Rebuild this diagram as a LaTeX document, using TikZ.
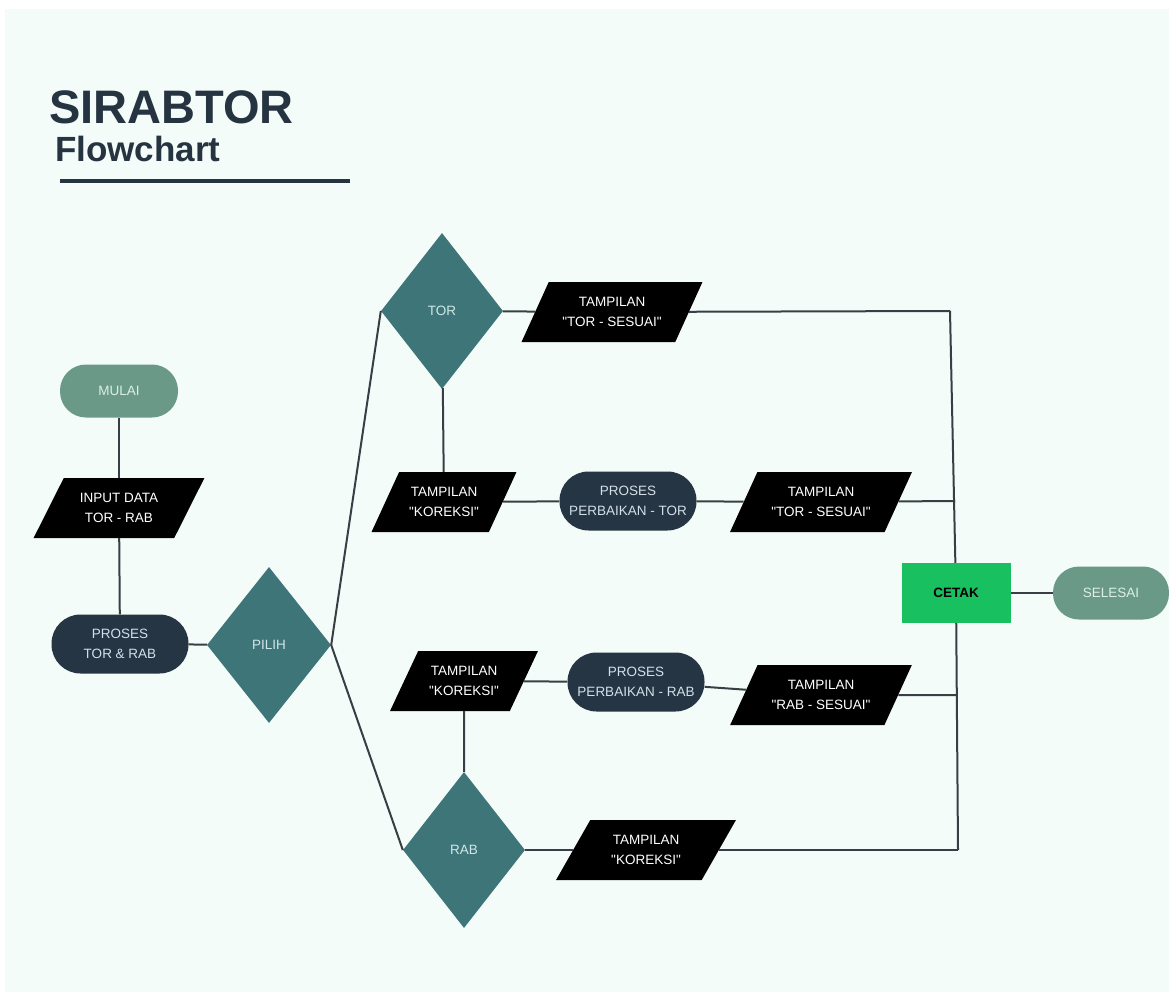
\documentclass[tikz,border=0pt]{standalone}
\usepackage{fontspec}
\setmainfont{Liberation Sans}
\usetikzlibrary{shapes.geometric}

\definecolor{bgmint}{HTML}{F3FCF8}
\definecolor{ink}{HTML}{263340}
\definecolor{sage}{HTML}{6A9A87}
\definecolor{sagetext}{HTML}{DCEFE6}
\definecolor{navy}{HTML}{263544}
\definecolor{navytext}{HTML}{D3E0E8}
\definecolor{tealdk}{HTML}{3E7578}
\definecolor{tealtext}{HTML}{D2E8E8}
\definecolor{printgreen}{HTML}{19C060}
\definecolor{wire}{HTML}{383E43}

\newcommand{\qt}[1]{\textquotedbl#1\textquotedbl}

\begin{document}
\begin{tikzpicture}
  [x=1pt,y=-1pt,every node/.style={align=center,inner sep=0pt,font=\fontsize{13.5}{20}\selectfont}]
  \tikzstyle{terminal} = [rectangle,rounded corners=26pt,fill=sage,text=sagetext,minimum width=118pt,minimum height=53pt]
  \tikzstyle{process} = [rectangle,rounded corners=29pt,fill=navy,text=navytext,minimum width=137pt,minimum height=59pt]
  \tikzstyle{io} = [trapezium,trapezium left angle=54,trapezium right angle=126,trapezium stretches=true,fill=black,text=white,minimum height=60pt]
  \tikzstyle{decision} = [diamond,fill=tealdk,text=tealtext,minimum width=122pt,minimum height=156pt]
  \tikzstyle{printbox} = [rectangle,fill=printgreen,text=black,font=\fontsize{13.5}{20}\selectfont\bfseries,minimum width=109pt,minimum height=60pt]
  \tikzstyle{wire} = [draw=wire,line width=2pt]

  \useasboundingbox (0,0) rectangle (1169,992);
  \fill[bgmint] (5,9) rectangle (1169,992);

  \node[anchor=base west,text=ink,font=\fontsize{47}{47}\selectfont\bfseries] (title) at (49,124) {SIRABTOR};
  \node[anchor=base west,text=ink,font=\fontsize{35}{35}\selectfont\bfseries] (subtitle) at (55,162) {Flowchart};
  \draw[ink,line width=4pt] (60,181) -- (350,181);

  \node[terminal] (mulai) at (119,391) {MULAI};
  \node[io,minimum width=171pt] (input) at (119,508) {INPUT DATA\\TOR - RAB};
  \node[process] (proses) at (120,644) {PROSES\\TOR \& RAB};
  \node[decision,minimum width=124pt] (pilih) at (269,645) {PILIH};

  \node[decision] (tor) at (442,311) {TOR};
  \node[io,minimum width=181pt] (torOk) at (612,312) {TAMPILAN\\\qt{TOR - SESUAI}};
  \node[io,minimum width=145pt] (torFix) at (444,502) {TAMPILAN\\\qt{KOREKSI}};
  \node[process] (torProc) at (628,501) {PROSES\\PERBAIKAN - TOR};
  \node[io,minimum width=182pt] (torOk2) at (821,502) {TAMPILAN\\\qt{TOR - SESUAI}};

  \node[decision] (rab) at (464,850) {RAB};
  \node[io,minimum width=148pt] (rabFix) at (464,681) {TAMPILAN\\\qt{KOREKSI}};
  \node[process] (rabProc) at (636,682) {PROSES\\PERBAIKAN - RAB};
  \node[io,minimum width=182pt] (rabOk) at (821,695) {TAMPILAN\\\qt{RAB - SESUAI}};
  \node[io,minimum width=180pt] (rabFix2) at (646,850) {TAMPILAN\\\qt{KOREKSI}};

  \node[printbox] (cetak) at (956,593) {CETAK};
  \node[terminal,minimum width=116pt] (selesai) at (1111,593) {SELESAI};

  \coordinate (c1) at (950,311);
  \coordinate (j1) at (955,501);
  \coordinate (j2) at (957,695);
  \coordinate (c4) at (958,850);

  \foreach \source/\dest in {mulai/input,input/proses,proses/pilih,pilih.east/tor.west,pilih.east/rab.west,
      tor/torOk,torOk/c1,c1/cetak,tor/torFix,torFix/torProc,torProc/torOk2,torOk2/j1,
      rabFix/rab,rabFix/rabProc,rabProc/rabOk,rabOk/j2,rab/rabFix2,rabFix2/c4,c4/cetak,cetak/selesai}
    \draw[wire] (\source) -- (\dest);
\end{tikzpicture}
\end{document}
